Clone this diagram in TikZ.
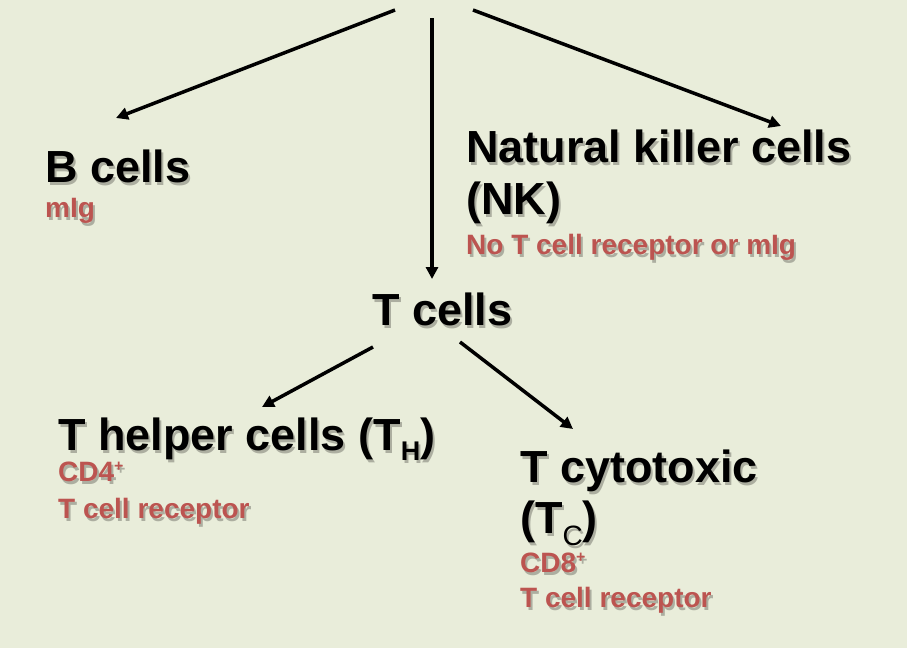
\documentclass[tikz,border=0pt]{standalone}
\usepackage{fontspec}
\setmainfont{Liberation Sans}
\usetikzlibrary{arrows.meta}
\definecolor{bgc}{RGB}{233,237,218}
\definecolor{redtxt}{RGB}{188,84,80}
\definecolor{shd}{RGB}{172,174,160}
\newcommand\shtxt[1]{\makebox[0pt][l]{\hspace{2pt}\raisebox{-3pt}{\color{shd}#1}}#1}
\tikzset{
  big/.style={anchor=base west, inner sep=0pt, font=\fontsize{45}{52}\selectfont\bfseries, text=black},
  small/.style={anchor=base west, inner sep=0pt, font=\fontsize{28}{34}\selectfont\bfseries, text=redtxt},
  conn/.style={line width=3.5pt, -{Triangle[length=12pt,width=12pt]}}
}
\begin{document}
\begin{tikzpicture}[x=1pt,y=-1pt]
\fill[bgc] (0,0) rectangle (907,648);
\useasboundingbox (0,0) rectangle (907,648);
% top connector start points (root is off picture)
\coordinate (r1) at (395,10);
\coordinate (r2) at (432,18);
\coordinate (r3) at (473,10);
\coordinate (b1) at (116,118);
\coordinate (n1) at (781,126);
\coordinate (t1) at (432,279);
% nodes
\node[big] (bcells) at (45,182) {\shtxt{B cells}};
\node[small] (mlg) at (45,217) {\shtxt{mIg}};
\node[big] (nk1) at (466,162) {\shtxt{Natural killer cells}};
\node[big] (nk2) at (466,214) {\shtxt{(NK)}};
\node[small] (nkr) at (466,254) {\shtxt{No T cell receptor or mIg}};
\node[big] (tcells) at (372,325) {\shtxt{T cells}};
\node[big] (th) at (58,450) {\shtxt{T helper cells (T\raisebox{-10pt}{\fontsize{27}{27}\selectfont H})}};
\node[small] (cd4) at (58,481) {\shtxt{CD4\raisebox{10pt}{\fontsize{16}{16}\selectfont +}}};
\node[small] (tcr1) at (58,518) {\shtxt{T cell receptor}};
\node[big] (tc1) at (520,482) {\shtxt{T cytotoxic}};
\node[big] (tc2) at (520,533) {\shtxt{(T\raisebox{-12pt}{\fontsize{28}{28}\selectfont\mdseries C})}};
\node[small] (cd8) at (520,572) {\shtxt{CD8\raisebox{10pt}{\fontsize{16}{16}\selectfont +}}};
\node[small] (tcr2) at (520,607) {\shtxt{T cell receptor}};
% connectors
\draw[conn] (r1) -- (b1);
\draw[conn] (r3) -- (n1);
\draw[conn] (r2) -- (t1);
\coordinate (ts1) at (373,347);
\coordinate (ts2) at (460,342);
\coordinate (th1) at (262,407);
\coordinate (tc0) at (573,429);
\draw[conn] (ts1) -- (th1);
\draw[conn] (ts2) -- (tc0);
\end{tikzpicture}
\end{document}
